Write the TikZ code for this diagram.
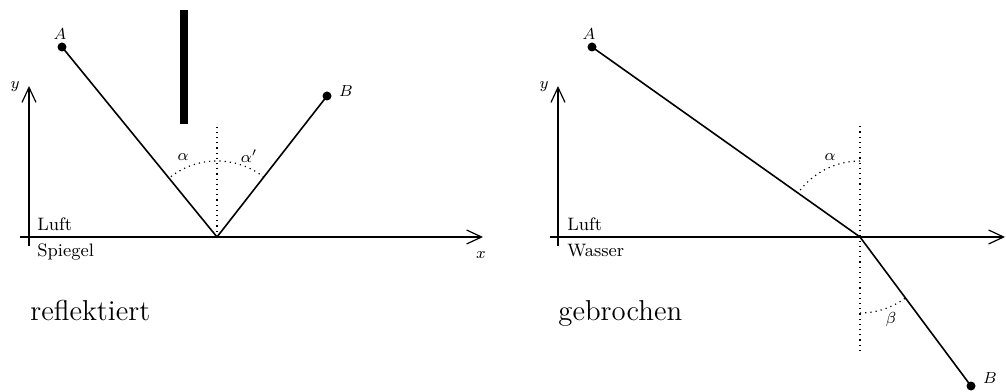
\documentclass[tikz,border=0pt]{standalone}
\usetikzlibrary{arrows.meta, positioning, calc}
\tikzstyle{axis} = [semithick, -{Straight Barb[length=7.5pt,width=7pt]}]
\tikzstyle{ray} = [thick]
\tikzstyle{lot} = [dotted, semithick]
\tikzstyle{punkt} = [circle, fill=black, inner sep=0pt, minimum size=4.5pt]
\tikzstyle{medium} = [font=\small, inner sep=0pt, anchor=base west]
\tikzstyle{marke} = [font=\footnotesize, inner sep=1pt]

\begin{document}
\begin{tikzpicture}[x=0.5pt, y=0.5pt]
    \useasboundingbox (0,0) rectangle (1006,391);

    % reflektiert
    \coordinate (O1) at (217,154);
    \node (A1) [punkt] at (62,344) {};
    \node (B1) [punkt] at (327,295) {};
    \coordinate (x1s) at (20,154);
    \coordinate (x1e) at (483,154);
    \coordinate (y1s) at (29,145);
    \coordinate (y1e) at (29,305);
    \coordinate (n1) at (217,266);
    \fill (180,267) rectangle (188,381);

    \draw [axis] (x1s) -- (x1e);
    \draw [axis] (y1s) -- (y1e);
    \draw [lot] (O1) -- (n1);
    \draw [ray] (A1.center) -- (O1) -- (B1.center);
    \draw [lot] ($(O1)+(52:76)$) arc [start angle=52, end angle=129.2, radius=76];

    \node [marke] at (60,357) {$A$};
    \node [marke] at (346,300) {$B$};
    \node [marke] at (15,304) {$y$};
    \node [marke] at (481,136) {$x$};
    \node [marke] at (183,234) {$\alpha$};
    \node [marke] at (249,235) {$\alpha'$};
    \node (luft1) [medium] at (37,160) {Luft};
    \node (sp) [medium] at (37,134) {Spiegel};
    \node (refl) [font=\Large, inner sep=0pt, anchor=base west] at (30,71) {reflektiert};

    % gebrochen
    \coordinate (O2) at (860,154);
    \node (A2) [punkt] at (592,344) {};
    \node (B2) [punkt] at (971,5) {};
    \coordinate (x2s) at (550,154);
    \coordinate (x2e) at (1005,154);
    \coordinate (y2s) at (558,145);
    \coordinate (y2e) at (558,305);
    \coordinate (n2o) at (860,265);
    \coordinate (n2u) at (860,40);

    \draw [axis] (x2s) -- (x2e);
    \draw [axis] (y2s) -- (y2e);
    \draw [lot] (n2u) -- (n2o);
    \draw [ray] (A2.center) -- (O2) -- (B2.center);
    \draw [lot] ($(O2)+(90:76)$) arc [start angle=90, end angle=144.7, radius=76];
    \draw [lot] ($(O2)+(-90:76)$) arc [start angle=-90, end angle=-53.5, radius=76];

    \node [marke] at (589,357) {$A$};
    \node [marke] at (990,13) {$B$};
    \node [marke] at (544,304) {$y$};
    \node [marke] at (830,234) {$\alpha$};
    \node [marke] at (891,72) {$\beta$};
    \node (luft2) [medium] at (567,160) {Luft};
    \node (wa) [medium] at (567,134) {Wasser};
    \node (gebr) [font=\Large, inner sep=0pt, anchor=base west] at (558,71) {gebrochen};
\end{tikzpicture}
\end{document}
